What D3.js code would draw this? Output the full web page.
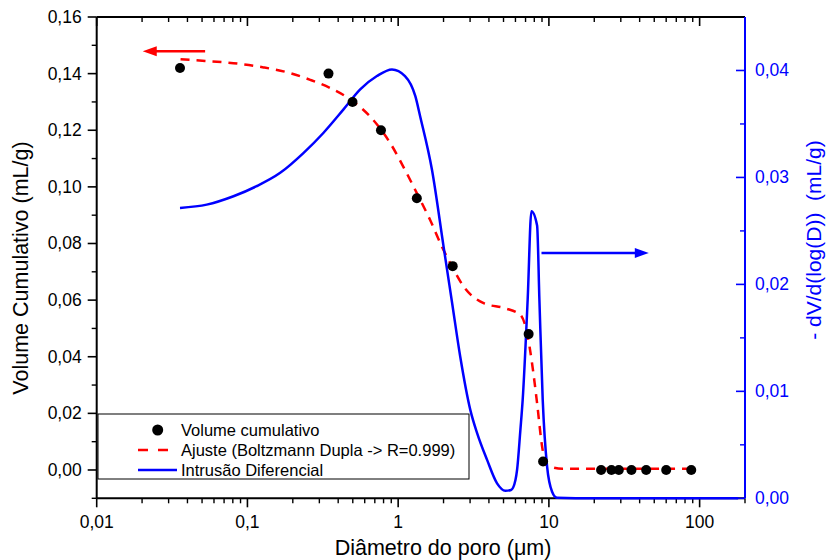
<!DOCTYPE html>
<html lang="en">
<head>
<meta charset="UTF-8">
<title>Volume Cumulativo</title>
<script src="https://d3js.org/d3.v7.min.js"></script>
<style>
    body { margin: 0; background: #fff; }
    svg text { font-family: "Liberation Sans", Arial, sans-serif; }
</style>
</head>
<body>
<svg id="canvas" width="826" height="560"></svg>
<script>
    // measured points (diameter in um, cumulative volume in mL/g)
    const poreX = [0.0357, 0.345, 0.498, 0.769, 1.33, 2.30, 7.34, 9.15, 22.2, 26.0, 29.1, 35.3, 44.2, 60.0, 88.0];
    const poreY = [0.142, 0.140, 0.130, 0.120, 0.096, 0.072, 0.048, 0.003, 0, 0, 0, 0, 0, 0, 0];

    // Boltzmann fit
    const fitX = [0.036, 0.0524, 0.0808, 0.128, 0.192, 0.261, 0.354, 0.505, 0.653, 0.887, 1.14, 1.365, 1.63, 1.95, 2.28,
        2.72, 3.69, 5.14, 6.47, 7.17, 7.73, 8.35, 9.02, 9.6, 12.3, 88];
    const fitY = [0.1451, 0.1445, 0.1437, 0.1422, 0.1402, 0.1378, 0.1349, 0.1301, 0.1248, 0.1154, 0.1048, 0.0966, 0.0883,
        0.0789, 0.0718, 0.0648, 0.0589, 0.0571, 0.0548, 0.0483, 0.0377, 0.0236, 0.0082, 0.0018, 0.0004, 0.0004];

    // differential intrusion (right axis)
    const diffX = [0.0357, 0.0537, 0.0808, 0.115, 0.165, 0.236, 0.320, 0.434, 0.560, 0.723, 0.910, 1.11, 1.30, 1.40, 1.675,
        2.00, 2.28, 2.58, 3.01, 3.34, 3.89, 4.53, 5.14, 5.61, 6.0, 6.15, 6.47, 6.70, 7.23, 7.66, 8.35, 8.65, 9.10, 9.73,
        10.5, 11.3, 20, 180];
    const diffY = [0.02715, 0.02746, 0.02824, 0.02918, 0.03043, 0.0323, 0.03418, 0.03636, 0.03823, 0.03948, 0.0401, 0.03948,
        0.0376, 0.0357, 0.03074, 0.02356, 0.01826, 0.01326, 0.00827, 0.00609, 0.00359, 0.0014, 0.00071, 0.00078, 0.00171,
        0.00265, 0.0064, 0.0092, 0.01857, 0.02684, 0.0255, 0.01857, 0.0092, 0.00296, 0.00062, 0.00006, 0, 0];

    const xTicks = [0.01, 0.1, 1, 10, 100];
    const xTickLabels = ["0,01", "0,1", "1", "10", "100"];
    const leftTicks = [0, 0.02, 0.04, 0.06, 0.08, 0.10, 0.12, 0.14, 0.16];
    const rightTicks = [0, 0.01, 0.02, 0.03, 0.04];

    const legendLabels = ["Volume cumulativo", "Ajuste (Boltzmann Dupla -> R=0.999)", "Intrusão Diferencial"];

    // arrows pointing to each axis
    const leftArrow = {from: 0.0524, to: 0.0202, y: 0.1479};
    const rightArrow = {from: 8.93, to: 46.0, y: 0.02294};

    const plotLeft = 96.7, plotRight = 745, plotTop = 17, plotBottom = 498.3;
    const blue = "#0000ff", red = "#ff0000";

    let x = d3.scaleLog().domain([0.01, 200]).range([plotLeft, plotRight]);
    let yL = d3.scaleLinear().domain([-0.01, 0.16]).range([plotBottom, plotTop]);
    let yR = d3.scaleLinear().domain([0, 0.045]).range([plotBottom, plotTop]);

    let comma = v => d3.format(".2f")(v).replace(".", ",");
    let svg = d3.select("#canvas");

    let minorX = [];
    [0.01, 0.1, 1, 10, 100].forEach(function (d) {
        for (let k = 2; k <= 9; k++) if (d * k <= 200) minorX.push(d * k);
    });

    // bottom axis
    let gB = svg.append("g").attr("transform", "translate(0," + plotBottom + ")");
    gB.append("line").attr("x1", plotLeft).attr("x2", plotRight).attr("stroke", "#000").attr("stroke-width", 2);
    gB.selectAll(".mj").data(xTicks).enter().append("line")
        .attr("x1", d => x(d)).attr("x2", d => x(d)).attr("y1", 0).attr("y2", 9)
        .attr("stroke", "#000").attr("stroke-width", 1.6);
    gB.selectAll(".mn").data(minorX).enter().append("line")
        .attr("x1", d => x(d)).attr("x2", d => x(d)).attr("y1", 0).attr("y2", 5)
        .attr("stroke", "#000").attr("stroke-width", 1.4);
    gB.selectAll("text").data(xTicks).enter().append("text")
        .attr("x", d => x(d)).attr("y", 30).attr("text-anchor", "middle")
        .attr("font-size", 17.5).text((d, i) => xTickLabels[i]);

    // top axis (mirror, ticks inward)
    let gT = svg.append("g").attr("transform", "translate(0," + plotTop + ")");
    gT.append("line").attr("x1", plotLeft).attr("x2", plotRight).attr("stroke", "#000").attr("stroke-width", 2);
    gT.selectAll(".mj").data(xTicks).enter().append("line")
        .attr("x1", d => x(d)).attr("x2", d => x(d)).attr("y1", 0).attr("y2", 9)
        .attr("stroke", "#000").attr("stroke-width", 1.6);
    gT.selectAll(".mn").data(minorX).enter().append("line")
        .attr("x1", d => x(d)).attr("x2", d => x(d)).attr("y1", 0).attr("y2", 5)
        .attr("stroke", "#000").attr("stroke-width", 1.4);

    // left axis
    let gL = svg.append("g").attr("transform", "translate(" + plotLeft + ",0)");
    gL.append("line").attr("y1", plotTop).attr("y2", plotBottom).attr("stroke", "#000").attr("stroke-width", 2);
    gL.selectAll(".mj").data(leftTicks).enter().append("line")
        .attr("y1", d => yL(d)).attr("y2", d => yL(d)).attr("x1", 0).attr("x2", -9)
        .attr("stroke", "#000").attr("stroke-width", 1.6);
    gL.selectAll(".mn").data(d3.range(-0.01, 0.16, 0.02)).enter().append("line")
        .attr("y1", d => yL(d)).attr("y2", d => yL(d)).attr("x1", 0).attr("x2", -5)
        .attr("stroke", "#000").attr("stroke-width", 1.4);
    gL.selectAll("text").data(leftTicks).enter().append("text")
        .attr("x", -15).attr("y", d => yL(d) + 6).attr("text-anchor", "end")
        .attr("font-size", 17.5).text(comma);

    // right axis (blue, ticks inward)
    let gR = svg.append("g").attr("transform", "translate(" + plotRight + ",0)");
    gR.append("line").attr("y1", plotTop).attr("y2", plotBottom).attr("stroke", blue).attr("stroke-width", 2);
    gR.selectAll(".mj").data(rightTicks).enter().append("line")
        .attr("y1", d => yR(d)).attr("y2", d => yR(d)).attr("x1", 0).attr("x2", -9)
        .attr("stroke", blue).attr("stroke-width", 1.6);
    gR.selectAll(".mn").data([0.005, 0.015, 0.025, 0.035]).enter().append("line")
        .attr("y1", d => yR(d)).attr("y2", d => yR(d)).attr("x1", 0).attr("x2", -5)
        .attr("stroke", blue).attr("stroke-width", 1.4);
    gR.selectAll("text").data(rightTicks).enter().append("text")
        .attr("x", 10).attr("y", d => yR(d) + 6).attr("fill", blue)
        .attr("font-size", 17.5).text(comma);

    // axis titles
    svg.append("text").attr("x", 443).attr("y", 555).attr("text-anchor", "middle")
        .attr("font-size", 21.5).text("Diâmetro do poro (μm)");
    svg.append("text").attr("transform", "translate(27.5,268) rotate(-90)").attr("text-anchor", "middle")
        .attr("font-size", 21.5).text("Volume Cumulativo (mL/g)");
    svg.append("text").attr("transform", "translate(821,240) rotate(-90)").attr("text-anchor", "middle")
        .attr("font-size", 21).attr("fill", blue).attr("xml:space", "preserve")
        .text("- dV/d(log(D))  (mL/g)");

    // curves
    let fitLine = d3.line().x(d => x(d[0])).y(d => yL(d[1])).curve(d3.curveMonotoneX);
    svg.append("path").datum(d3.zip(fitX, fitY)).attr("d", fitLine)
        .attr("fill", "none").attr("stroke", red).attr("stroke-width", 2.5).attr("stroke-dasharray", "9,7");

    let diffLine = d3.line().x(d => x(d[0])).y(d => yR(d[1])).curve(d3.curveMonotoneX);
    svg.append("path").datum(d3.zip(diffX, diffY)).attr("d", diffLine)
        .attr("fill", "none").attr("stroke", blue).attr("stroke-width", 2.5);

    svg.selectAll(".pt").data(d3.zip(poreX, poreY)).enter().append("circle")
        .attr("cx", d => x(d[0])).attr("cy", d => yL(d[1])).attr("r", 5).attr("fill", "#000");

    // arrows
    function arrow(x1, x2, yy, color) {
        let dir = x2 > x1 ? 1 : -1;
        svg.append("line").attr("x1", x1).attr("x2", x2 - dir * 10).attr("y1", yy).attr("y2", yy)
            .attr("stroke", color).attr("stroke-width", 2.5);
        svg.append("path")
            .attr("d", "M" + x2 + "," + yy + "L" + (x2 - dir * 14) + "," + (yy - 5) + "L" + (x2 - dir * 14) + "," + (yy + 5) + "Z")
            .attr("fill", color);
    }
    arrow(x(leftArrow.from), x(leftArrow.to), yL(leftArrow.y), red);
    arrow(x(rightArrow.from), x(rightArrow.to), yR(rightArrow.y), blue);

    // legend
    let lg = svg.append("g");
    lg.append("rect").attr("x", 98).attr("y", 414).attr("width", 371).attr("height", 65)
        .attr("fill", "#fff").attr("stroke", "#000").attr("stroke-width", 1);
    lg.append("circle").attr("cx", 157.7).attr("cy", 430).attr("r", 5.5).attr("fill", "#000");
    lg.append("line").attr("x1", 138).attr("x2", 177).attr("y1", 450).attr("y2", 450)
        .attr("stroke", red).attr("stroke-width", 2.5).attr("stroke-dasharray", "10,10");
    lg.append("line").attr("x1", 138).attr("x2", 177).attr("y1", 470).attr("y2", 470)
        .attr("stroke", blue).attr("stroke-width", 2.5);
    lg.selectAll("text").data(legendLabels).enter().append("text")
        .attr("x", 181).attr("y", (d, i) => 436 + i * 20).attr("font-size", 16.5).text(d => d);
</script>
</body>
</html>
